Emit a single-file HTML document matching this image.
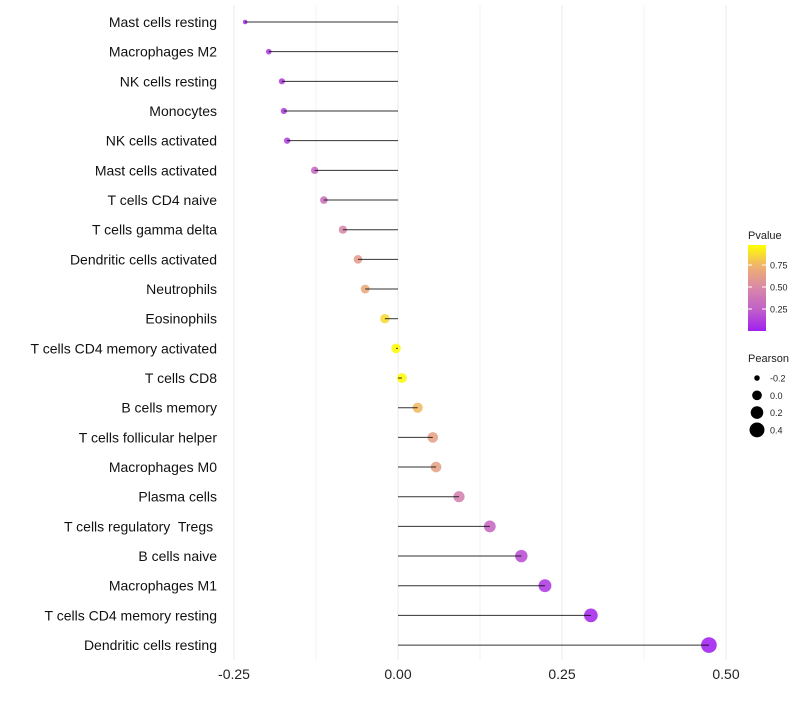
<!DOCTYPE html>
<html><head><meta charset="utf-8"><style>
body{margin:0;background:#fff;font-family:"Liberation Sans",sans-serif}
text{white-space:pre}
</style></head><body>
<svg id="c" width="800" height="700" xmlns="http://www.w3.org/2000/svg" font-family="Liberation Sans, sans-serif"></svg>
<script>
const categories=["Mast cells resting","Macrophages M2","NK cells resting","Monocytes","NK cells activated","Mast cells activated","T cells CD4 naive","T cells gamma delta","Dendritic cells activated","Neutrophils","Eosinophils","T cells CD4 memory activated","T cells CD8","B cells memory","T cells follicular helper","Macrophages M0","Plasma cells","T cells regulatory  Tregs ","B cells naive","Macrophages M1","T cells CD4 memory resting","Dendritic cells resting"];
const pearson=[-0.233,-0.197,-0.177,-0.174,-0.169,-0.127,-0.113,-0.084,-0.061,-0.050,-0.020,-0.003,0.006,0.030,0.053,0.058,0.093,0.140,0.188,0.224,0.294,0.474];
const pvalue=[0.05,0.1,0.12,0.12,0.13,0.3,0.35,0.5,0.62,0.7,0.88,0.99,0.98,0.78,0.65,0.65,0.45,0.3,0.18,0.1,0.03,0.005];
const xTicks=[-0.25,0,0.25,0.5];
const xTickLabels=["-0.25","0.00","0.25","0.50"];
const legendP=[0.75,0.5,0.25];
const legendS=[-0.2,0,0.2,0.4];
const NS="http://www.w3.org/2000/svg",svg=document.getElementById('c');
function mk(t,a,p){const e=document.createElementNS(NS,t);for(const k in a)e.setAttribute(k,a[k]);(p||svg).appendChild(e);return e;}
const x=v=>398+v*656;
const y=i=>22+i*29.67;
const rad=v=>Math.sqrt(5+Math.max(0,v+0.233)*80);
const stops=[[0,[160,32,240]],[0.25,[192,96,200]],[0.5,[216,136,168]],[0.75,[240,176,112]],[1,[255,255,0]]];
function col(p){for(let i=1;i<stops.length;i++){if(p<=stops[i][0]){const a=stops[i-1],b=stops[i],t=(p-a[0])/(b[0]-a[0]);return 'rgb('+a[1].map((c,j)=>Math.round(c+(b[1][j]-c)*t)).join(',')+')';}}return 'rgb(255,255,0)';}
for(let v=-0.25;v<=0.51;v+=0.125){const g=mk('line',{x1:x(v),x2:x(v),y1:5,y2:660,stroke:'#ebebeb','stroke-width':Math.abs((v*8)%2)<0.01?1:0.6});

}
xTicks.forEach((v,i)=>{const t=mk('text',{x:x(v),y:679,'text-anchor':'middle','font-size':14,fill:'#222'});t.textContent=xTickLabels[i];

});
categories.forEach((c,i)=>{
const t=mk('text',{x:217,y:y(i)+5,'text-anchor':'end','font-size':14,fill:'#111'});t.textContent=c;


const p=mk('circle',{cx:x(pearson[i]),cy:y(i),r:rad(pearson[i]),fill:col(pvalue[i]),opacity:0.88});


const l=mk('line',{x1:x(0),x2:x(pearson[i]),y1:y(i),y2:y(i),stroke:'#000','stroke-width':1,opacity:0.8});


});
const defs=mk('defs',{});const lg=mk('linearGradient',{id:'g',x1:0,y1:1,x2:0,y2:0},defs);
stops.forEach(s=>mk('stop',{offset:s[0],'stop-color':col(s[0])},lg));
let t=mk('text',{x:748,y:239,'font-size':11,fill:'#222'});t.textContent='Pvalue';

const bar=mk('rect',{x:748,y:245,width:18,height:86,fill:'url(#g)'});

legendP.forEach(v=>{const yy=331-v*88;mk('line',{x1:748,x2:752,y1:yy,y2:yy,stroke:'#fff'});mk('line',{x1:762,x2:766,y1:yy,y2:yy,stroke:'#fff'});
const tt=mk('text',{x:770,y:yy+3.5,'font-size':9,fill:'#222'});tt.textContent=v.toFixed(2);
});
t=mk('text',{x:748,y:362,'font-size':11,fill:'#222'});t.textContent='Pearson';

legendS.forEach((v,i)=>{const yy=378+i*17.3;const c=mk('circle',{cx:757,cy:yy,r:rad(v),fill:'#000'});

const tt=mk('text',{x:770,y:yy+3.5,'font-size':9,fill:'#222'});tt.textContent=v.toFixed(1);
});
</script>
</body></html>
